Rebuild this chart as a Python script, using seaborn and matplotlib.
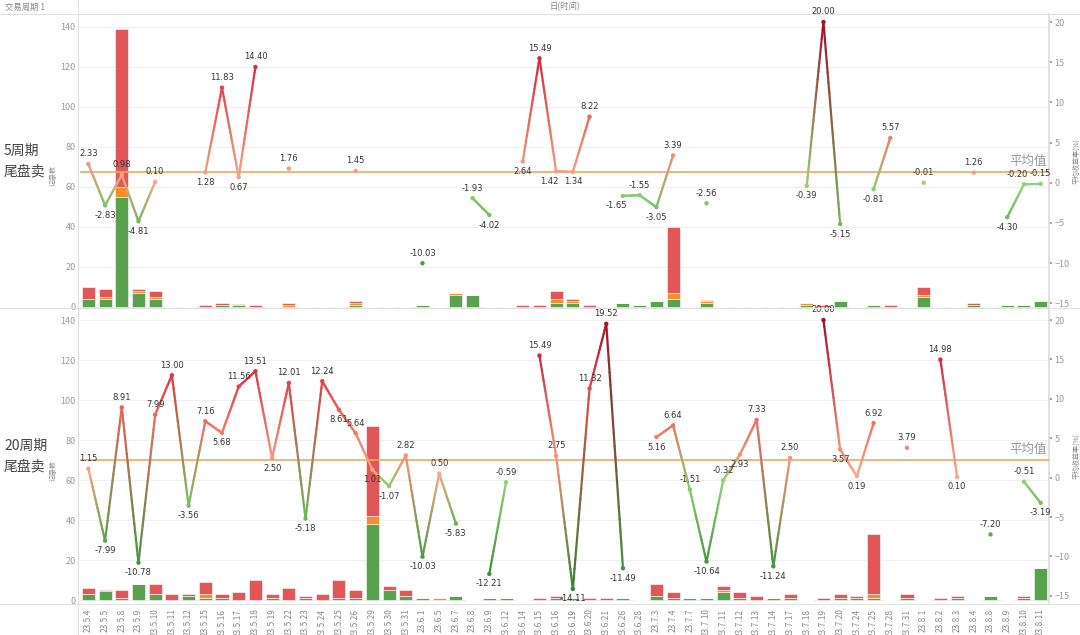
import numpy as np
import matplotlib
matplotlib.use("Agg")
import matplotlib.pyplot as plt
from matplotlib.collections import LineCollection
from matplotlib.colors import to_rgb
import seaborn as sns
import pandas as pd

sns.set_theme(style="white")
plt.rcParams['font.family'] = ['Noto Sans CJK SC', 'DejaVu Sans']

dates = ["23.5.4","23.5.5","23.5.8","23.5.9","23.5.10","23.5.11","23.5.12","23.5.15","23.5.16","23.5.17",
         "23.5.18","23.5.19","23.5.22","23.5.23","23.5.24","23.5.25","23.5.26","23.5.29","23.5.30","23.5.31",
         "23.6.1","23.6.5","23.6.7","23.6.8","23.6.9","23.6.12","23.6.14","23.6.15","23.6.16","23.6.19",
         "23.6.20","23.6.21","23.6.26","23.6.28","23.7.3","23.7.4","23.7.7","23.7.10","23.7.11","23.7.12",
         "23.7.13","23.7.14","23.7.17","23.7.18","23.7.19","23.7.20","23.7.24","23.7.25","23.7.28","23.7.31",
         "23.8.1","23.8.2","23.8.3","23.8.4","23.8.8","23.8.9","23.8.10","23.8.11"]
N = len(dates)
nan = np.nan

# 5-period panel: average return (%) per date
ret5 = [2.33,-2.83,0.98,-4.81,0.10,nan,nan,1.28,11.83,0.67,
        14.40,nan,1.76,nan,nan,nan,1.45,nan,nan,nan,
        -10.03,nan,nan,-1.93,-4.02,nan,2.64,15.49,1.42,1.34,
        8.22,nan,-1.65,-1.55,-3.05,3.39,nan,-2.56,nan,nan,
        nan,nan,nan,-0.39,20.00,-5.15,nan,-0.81,5.57,nan,
        -0.01,nan,nan,1.26,nan,-4.30,-0.20,-0.15]
green5 = [4,4,55,7,4,0,0,0,1,1, 0,0,0,0,0,0,1,0,0,0, 1,0,6,6,0,0,0,0,2,2,
          0,0,2,1,3,4,0,2,0,0, 0,0,0,1,0,3,0,1,0,0, 5,0,0,1,0,1,1,3]
orange5 = [0,1,5,1,1,0,0,0,0,0, 0,0,1,0,0,0,1,0,0,0, 0,0,1,0,0,0,0,0,2,1,
           0,0,0,0,0,3,0,1,0,0, 0,0,0,1,0,0,0,0,0,0, 1,0,0,0,0,0,0,0]
red5 = [6,4,79,1,3,0,0,1,1,0.5, 1,0,1,0,0,0,1,0,0,0, 0,0,0,0,0,0,1,1,4,1,
        1,0,0,0,0,33,0,0.5,0,0, 0,0,0,0,1,0,0,0,1,0, 4,0,0,1,0,0,0,0]
avg5 = 1.32

# 20-period panel
ret20 = [1.15,-7.99,8.91,-10.78,7.99,13.00,-3.56,7.16,5.68,11.56,
         13.51,2.50,12.01,-5.18,12.24,8.61,5.64,1.01,-1.07,2.82,
         -10.03,0.50,-5.83,nan,-12.21,-0.59,nan,15.49,2.75,-14.11,
         11.32,19.52,-11.49,nan,5.16,6.64,-1.51,-10.64,-0.32,2.93,
         7.33,-11.24,2.50,nan,20.00,3.57,0.19,6.92,nan,3.79,
         nan,14.98,0.10,nan,-7.20,nan,-0.51,-3.19]
green20 = [3,4.5,1,8,3,0,2,1,1,0, 0,1,0,1,0,1,1,38,5,2, 1,0,2,0,1,1,0,0,1,1,
           0,0,1,0,2,1,1,1,4,1, 0,1,1,0,0,1,1,1,0,1, 0,0,1,0,2,0,1,16]
orange20 = [0,0,0,0,0,0,0,2,0,0, 0,0,0,0,0,0,0,4,0,0, 0,1,0,0,0,0,0,0,0,0,
            0,0,0,0,0,0,0,0,1,0, 0,0,0,0,0,0,0,2,0,0, 0,0,0,0,0,0,0,0]
red20 = [3,0.7,4,0,5,3,1,6,2,4, 10,2,6,1,3,9,4,45,2,3, 0,0,0,0,0,0,0,1,1,0,
         1,1,0,0,6,3,0,0,2,3, 2,0,2,0,1,2,1,30,0,2, 0,1,1,0,0,0,1,0]
avg20 = 2.25

GREEN, ORANGE, RED = "#59a14f", "#f28e2b", "#e15759"

def val_color(v):
    if v < 0:
        t = min(-v / 15.0, 1.0)
        a, b = np.array(to_rgb("#93d474")), np.array(to_rgb("#2e7d32"))
        return a + (b - a) * t
    stops = [(0, "#f9a98a"), (7, "#f07060"), (15, "#d9283c"), (20, "#a3102c")]
    for (v0, c0), (v1, c1) in zip(stops[:-1], stops[1:]):
        if v <= v1:
            t = (v - v0) / (v1 - v0)
            a, b = np.array(to_rgb(c0)), np.array(to_rgb(c1))
            return a + (b - a) * t
    return np.array(to_rgb(stops[-1][1]))

fig = plt.figure(figsize=(10.8, 6.35), dpi=100)
W, H = 1080, 635
x0, x1 = 80, 1049

def draw_panel(top, bottom, g, o, r, ret, avg, ylim_l, ylim_r, title, show_x):
    ax = fig.add_axes([x0 / W, 1 - bottom / H, (x1 - x0) / W, (bottom - top) / H])
    idx = np.arange(N)
    df = pd.DataFrame({"d": dates, "g": g, "o": o, "r": r})
    ax.bar(idx, df["g"], width=0.78, color=GREEN, edgecolor="white", linewidth=0.4, zorder=2)
    ax.bar(idx, df["o"], bottom=df["g"], width=0.78, color=ORANGE, edgecolor="white", linewidth=0.4, zorder=2)
    ax.bar(idx, df["r"], bottom=df["g"] + df["o"], width=0.78, color=RED, edgecolor="white", linewidth=0.4, zorder=2)
    ax.set_xlim(-0.5, N - 0.5)
    ax.set_ylim(*ylim_l)
    ax.set_yticks([0, 20, 40, 60, 80, 100, 120, 140])
    ax.tick_params(axis="y", labelsize=6.5, colors="#999999", length=0, pad=3)
    ax.yaxis.grid(True, color="#f0f0f0", linewidth=0.8)
    ax.set_axisbelow(True)
    ax.set_ylabel("记录数", fontsize=5, color="#888888", labelpad=1)
    ax.yaxis.set_label_coords(-0.023, 0.45)
    for s in ax.spines.values():
        s.set_visible(False)
    if show_x:
        ax.set_xticks(idx)
        ax.set_xticklabels(dates, rotation=90, fontsize=6, color="#888888")
        ax.tick_params(axis="x", length=0, pad=4)
    else:
        ax.set_xticks([])

    ax2 = ax.twinx()
    ax2.set_xlim(-0.5, N - 0.5)
    ax2.set_ylim(*ylim_r)
    ax2.set_yticks([-15, -10, -5, 0, 5, 10, 15, 20])
    ax2.tick_params(axis="y", labelsize=6.5, colors="#999999", length=2, pad=2)
    for s in ax2.spines.values():
        s.set_visible(False)
    ax2.spines["right"].set_visible(True)
    ax2.spines["right"].set_color("#dddddd")

    ax2.axhline(avg, color="#f0a860", linewidth=1.2, zorder=3)
    ax2.text(N - 0.6, avg + 0.5, "平均值", ha="right", va="bottom", fontsize=9, color="#999999")

    ret = np.array(ret, dtype=float)
    segs, cols = [], []
    for i in range(N - 1):
        if np.isnan(ret[i]) or np.isnan(ret[i + 1]):
            continue
        c0, c1 = val_color(ret[i]), val_color(ret[i + 1])
        k = 20
        for j in range(k):
            t0, t1 = j / k, (j + 1) / k
            segs.append([(i + t0, ret[i] + (ret[i + 1] - ret[i]) * t0),
                         (i + t1, ret[i] + (ret[i + 1] - ret[i]) * t1)])
            cols.append(c0 + (c1 - c0) * (t0 + t1) / 2)
    ax2.add_collection(LineCollection(segs, colors=cols, linewidths=1.6, zorder=4, capstyle="round"))
    pts = pd.DataFrame({"x": idx, "y": ret}).dropna()
    sns.scatterplot(x=pts["x"], y=pts["y"], ax=ax2, s=10, linewidth=0,
                    color=[val_color(v) for v in pts["y"]], zorder=5, legend=False)
    ax2.set_xlabel("")
    ax2.set_ylabel("平均收益率(%)", fontsize=5, color="#888888", labelpad=2)
    for i in range(N):
        v = ret[i]
        if np.isnan(v):
            continue
        nb = [ret[j] for j in (i - 1, i + 1) if 0 <= j < N and not np.isnan(ret[j])]
        above = (not nb) or v >= np.mean(nb)
        dx = 0
        if i + 1 < N and not np.isnan(ret[i + 1]) and abs(ret[i + 1] - v) < 1.0:
            dx = -5
        ax2.annotate(f"{v:.2f}", (i, v), xytext=(dx, 4 if above else -4), textcoords="offset points",
                     ha="center", va="bottom" if above else "top", fontsize=6, color="#333333",
                     family=["DejaVu Sans"], zorder=6)
    fig.text(4 / W, 1 - (top + bottom) / 2 / H, title, fontsize=10, color="#444444",
             va="center", ha="left", linespacing=1.6)
    return ax

draw_panel(14, 308, green5, orange5, red5, ret5, avg5, (-0.5, 146.5), (-15.6, 21.0), "5周期\n尾盘卖", False)
draw_panel(309, 603, green20, orange20, red20, ret20, avg20, (-1.5, 145.5), (-15.9, 21.4), "20周期\n尾盘卖", True)

for seg in ([[78 / W, 78 / W], [0, 1]],
            [[0, 1], [1 - 14 / H, 1 - 14 / H]],
            [[0, 1], [1 - 308 / H, 1 - 308 / H]],
            [[0, 1], [1 - 604 / H, 1 - 604 / H]]):
    fig.add_artist(plt.Line2D(seg[0], seg[1], color="#e0e0e0", linewidth=0.8, transform=fig.transFigure))
fig.text(5 / W, 1 - 7 / H, "交易周期 1", fontsize=6, color="#888888", va="center", ha="left")
fig.text(565 / W, 1 - 7 / H, "日(时间)", fontsize=6, color="#888888", va="center", ha="center")

fig.savefig("out.png", dpi=100)
